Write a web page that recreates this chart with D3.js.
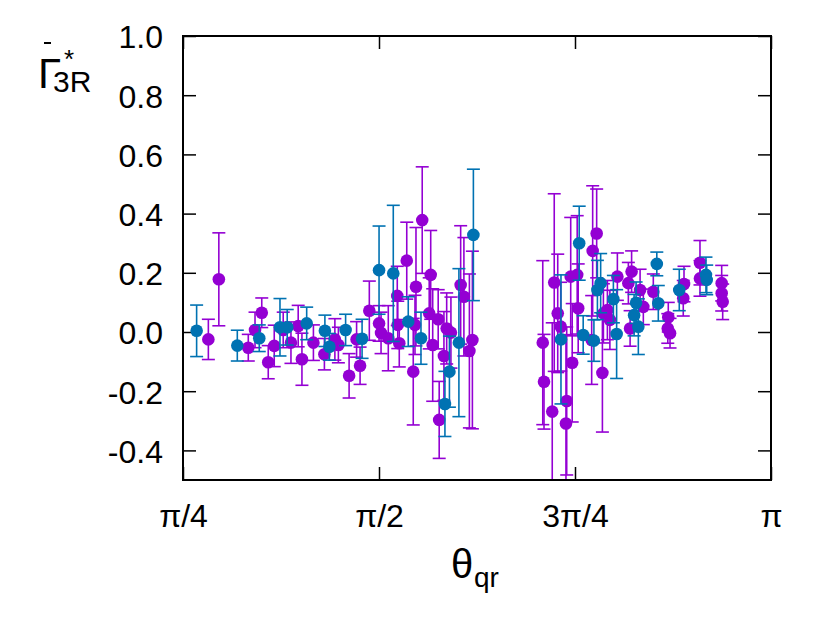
<!DOCTYPE html>
<html>
<head>
<meta charset="utf-8">
<script src="https://d3js.org/d3.v7.min.js"></script>
<style>
  body { margin: 0; background: #fff; }
  text { font-family: "Liberation Sans", Arial, sans-serif; }
</style>
</head>
<body>
<script>
// series 1 (purple): theta in radians, value, error
const purpleTheta = [0.887, 0.929, 1.047, 1.074, 1.101, 1.127, 1.151, 1.187, 1.218, 1.247,
  1.262, 1.308, 1.352, 1.394, 1.408, 1.451, 1.481, 1.495, 1.532, 1.571,
  1.579, 1.608, 1.644, 1.646, 1.652, 1.682, 1.708, 1.719, 1.715, 1.744,
  1.778, 1.772, 1.786, 1.808, 1.831, 1.812, 1.842, 1.859, 1.898, 1.911,
  1.933, 1.945,
  2.227, 2.232, 2.265, 2.273, 2.287, 2.299, 2.323, 2.320, 2.339, 2.345,
  2.369, 2.365, 2.423, 2.427, 2.443, 2.466, 2.470, 2.486, 2.496, 2.526,
  2.570, 2.583, 2.577, 2.617, 2.630, 2.670, 2.730, 2.728, 2.737, 2.793,
  2.790, 2.857, 2.857, 2.944, 2.944, 2.948];
const purpleVal = [-0.025, 0.178, -0.053, 0.007, 0.065, -0.102, -0.047, 0.007, -0.036, 0.020,
  -0.092, -0.036, -0.075, -0.025, -0.044, -0.148, -0.025, -0.114, 0.072, 0.029,
  -0.003, -0.021, 0.122, 0.024, -0.038, 0.241, -0.134, 0.153, 0.024, 0.378,
  0.193, 0.063, -0.044, 0.043, -0.081, -0.297, 0.012, -0.002, 0.159, 0.119,
  -0.064, -0.027,
  -0.036, -0.168, -0.269, 0.167, 0.063, 0.018, -0.233, -0.309, 0.187, -0.104,
  0.080, 0.193, -0.027, 0.274, 0.333, -0.138, 0.063, 0.074, 0.041, 0.187,
  0.165, 0.204, 0.012, 0.142, 0.085, 0.136, 0.050, 0.012, -0.004, 0.162,
  0.114, 0.234, 0.181, 0.165, 0.131, 0.102];
const purpleErr = [0.068, 0.157, 0.045, 0.060, 0.050, 0.056, 0.070, 0.060, 0.070, 0.070,
  0.088, 0.060, 0.053, 0.070, 0.060, 0.075, 0.060, 0.063, 0.100, 0.060,
  0.070, 0.110, 0.100, 0.080, 0.080, 0.130, 0.180, 0.200, 0.100, 0.180,
  0.150, 0.120, 0.190, 0.100, 0.150, 0.130, 0.120, 0.120, 0.200, 0.200,
  0.260, 0.300,
  0.277, 0.160, 0.300, 0.300, 0.200, 0.150, 0.250, 0.300, 0.200, 0.200,
  0.150, 0.200, 0.150, 0.220, 0.150, 0.200, 0.100, 0.100, 0.100, 0.080,
  0.070, 0.070, 0.060, 0.070, 0.060, 0.060, 0.050, 0.050, 0.050, 0.060,
  0.060, 0.075, 0.060, 0.060, 0.060, 0.060];

// series 2 (blue)
const blueTheta = [0.840, 1.003, 1.091, 1.174, 1.203, 1.281, 1.354, 1.372, 1.437, 1.503,
  1.571, 1.628, 1.688, 1.739, 1.835, 1.853, 1.891, 1.949,
  2.300, 2.373, 2.389, 2.432, 2.446, 2.459, 2.510, 2.523, 2.593, 2.601,
  2.610, 2.684, 2.690, 2.774, 2.881, 2.884];
const blueVal = [0.004, -0.046, -0.021, 0.016, 0.016, 0.029, 0.004, -0.050, 0.007, -0.023,
  0.209, 0.198, 0.035, -0.021, -0.243, -0.134, -0.036, 0.328,
  -0.025, 0.300, -0.010, -0.029, 0.142, 0.165, 0.111, -0.007, 0.057, 0.099,
  0.018, 0.230, 0.097, 0.142, 0.193, 0.176];
const blueErr = [0.087, 0.052, 0.045, 0.097, 0.060, 0.055, 0.053, 0.045, 0.053, 0.066,
  0.149, 0.230, 0.084, 0.088, 0.110, 0.120, 0.250, 0.222,
  0.218, 0.125, 0.065, 0.070, 0.100, 0.100, 0.080, 0.150, 0.070, 0.070,
  0.094, 0.040, 0.060, 0.070, 0.060, 0.050];

const xTicks = [Math.PI / 4, Math.PI / 2, 3 * Math.PI / 4, Math.PI];
const xTickLabels = ["π/4", "π/2", "3π/4", "π"];
const yTicks = [-0.4, -0.2, 0.0, 0.2, 0.4, 0.6, 0.8, 1.0];

const width = 830, height = 625;
const margin = { top: 36, right: 59, bottom: 145, left: 183 };
const innerW = width - margin.left - margin.right;
const innerH = height - margin.top - margin.bottom;

const svg = d3.select("body").append("svg")
  .attr("width", width)
  .attr("height", height);

const g = svg.append("g")
  .attr("transform", `translate(${margin.left},${margin.top})`);

const x = d3.scaleLinear().domain([Math.PI / 4, Math.PI]).range([0, innerW]);
const y = d3.scaleLinear().domain([-0.5, 1.0]).range([innerH, 0]);

g.append("clipPath").attr("id", "clip")
  .append("rect").attr("width", innerW).attr("height", innerH);

// axes, ticks point inward
const fmt = d => d3.format(".1f")(d).replace("−", "-");

g.append("g")
  .attr("transform", `translate(0,${innerH})`)
  .call(d3.axisBottom(x).tickValues(xTicks).tickSize(-13).tickPadding(24)
    .tickFormat((d, i) => xTickLabels[i]));
g.append("g")
  .call(d3.axisTop(x).tickValues(xTicks).tickSize(-13).tickFormat(""));
const yAxisG = g.append("g")
  .call(d3.axisLeft(y).tickValues(yTicks).tickSize(-13).tickPadding(20).tickFormat(fmt));
g.append("g")
  .attr("transform", `translate(${innerW},0)`)
  .call(d3.axisRight(y).tickValues(yTicks).tickSize(-13).tickFormat(""));

g.selectAll(".domain").remove();
g.selectAll(".tick line").attr("stroke", "#000").attr("stroke-width", 1.5);
g.selectAll(".tick text").attr("font-size", 32).attr("fill", "#000");
yAxisG.selectAll(".tick text").attr("dy", "0.37em");

const plot = g.append("g").attr("clip-path", "url(#clip)");

function drawSeries(thetas, vals, errs, color) {
  const data = thetas.map((t, i) => ({ t: t, v: vals[i], e: errs[i] }));
  const s = plot.append("g");
  const cap = 6.5;
  s.selectAll(".bar").data(data).enter().append("line")
    .attr("x1", d => x(d.t)).attr("x2", d => x(d.t))
    .attr("y1", d => y(d.v - d.e)).attr("y2", d => y(d.v + d.e))
    .attr("stroke", color).attr("stroke-width", 1.6);
  s.selectAll(".capT").data(data).enter().append("line")
    .attr("x1", d => x(d.t) - cap).attr("x2", d => x(d.t) + cap)
    .attr("y1", d => y(d.v + d.e)).attr("y2", d => y(d.v + d.e))
    .attr("stroke", color).attr("stroke-width", 1.6);
  s.selectAll(".capB").data(data).enter().append("line")
    .attr("x1", d => x(d.t) - cap).attr("x2", d => x(d.t) + cap)
    .attr("y1", d => y(d.v - d.e)).attr("y2", d => y(d.v - d.e))
    .attr("stroke", color).attr("stroke-width", 1.6);
  s.selectAll("circle").data(data).enter().append("circle")
    .attr("cx", d => x(d.t)).attr("cy", d => y(d.v))
    .attr("r", 6.3).attr("fill", color);
}

drawSeries(purpleTheta, purpleVal, purpleErr, "#9400d3");
drawSeries(blueTheta, blueVal, blueErr, "#0072b2");

// frame
g.append("rect")
  .attr("width", innerW).attr("height", innerH)
  .attr("fill", "none").attr("stroke", "#000").attr("stroke-width", 2);

// x label
const xl = svg.append("text").attr("x", 451).attr("y", 578).attr("font-size", 40);
xl.append("tspan").text("θ");
xl.append("tspan").attr("x", 474).attr("y", 587).attr("font-size", 28).text("qr");

// y label: Gamma with bar, star and subscript
const yl = svg.append("text").attr("x", 38).attr("y", 88).attr("font-size", 42);
yl.append("tspan").text("Γ");
yl.append("tspan").attr("x", 64).attr("y", 68).attr("font-size", 26).text("*");
yl.append("tspan").attr("x", 53).attr("y", 92).attr("font-size", 30).text("3R");
svg.append("line")
  .attr("x1", 44).attr("x2", 51).attr("y1", 43).attr("y2", 43)
  .attr("stroke", "#000").attr("stroke-width", 2);
</script>
</body>
</html>
